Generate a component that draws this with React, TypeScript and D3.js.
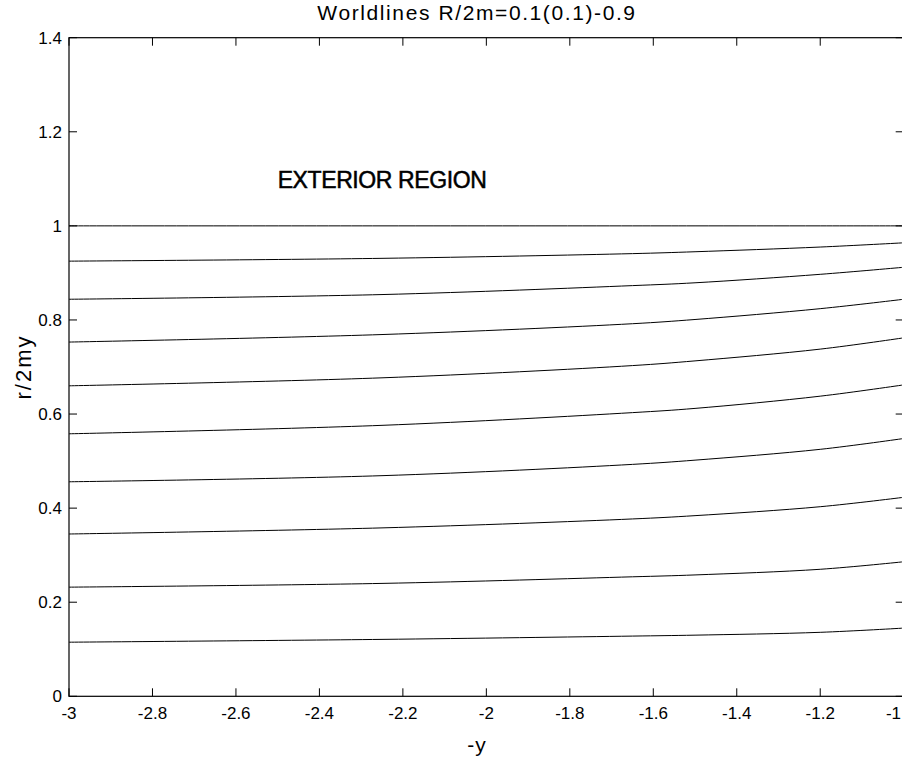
import React from "react";
import * as d3 from "d3";

const title = "Worldlines R/2m=0.1(0.1)-0.9";
const xLabel = "-y";
const yLabel = "r/2my";
const annotation = "EXTERIOR REGION";

const xTicks = [-3, -2.8, -2.6, -2.4, -2.2, -2, -1.8, -1.6, -1.4, -1.2, -1];
const yTicks = [0, 0.2, 0.4, 0.6, 0.8, 1, 1.2, 1.4];

// sample positions along -y
const ySamples = [-3, -2.25, -1.65, -1.5, -1.2, -1];

// r/2my values for each worldline (R/2m = 1.0, 0.9, ..., 0.1)
const line10 = [1.0, 1.0, 1.0, 1.0, 1.0, 1.0];
const line09 = [0.925, 0.931, 0.941, 0.945, 0.955, 0.964];
const line08 = [0.844, 0.854, 0.873, 0.879, 0.897, 0.912];
const line07 = [0.753, 0.769, 0.792, 0.801, 0.824, 0.844];
const line06 = [0.660, 0.677, 0.703, 0.713, 0.738, 0.762];
const line05 = [0.558, 0.576, 0.603, 0.612, 0.638, 0.662];
const line04 = [0.456, 0.469, 0.493, 0.502, 0.525, 0.548];
const line03 = [0.345, 0.358, 0.377, 0.384, 0.403, 0.423];
const line02 = [0.232, 0.240, 0.254, 0.258, 0.270, 0.286];
const line01 = [0.115, 0.121, 0.128, 0.130, 0.136, 0.145];

const series = [line10, line09, line08, line07, line06, line05, line04, line03, line02, line01];

const W = 902;
const H = 758;
const left = 69;
const right = 903.7;
const top = 37.7;
const bottom = 696.3;

export default function App() {
  const x = d3.scaleLinear().domain([-3, -1]).range([left, right]);
  const y = d3.scaleLinear().domain([0, 1.4]).range([bottom, top]);
  const line = d3
    .line<number>()
    .x((_, i) => x(ySamples[i]))
    .y((d) => y(d))
    .curve(d3.curveCatmullRom.alpha(0.5));
  const font = "Liberation Sans, Arial, Helvetica, sans-serif";
  const tl = 8;
  return (
    <svg
      width={W}
      height={H}
      style={{ position: "absolute", left: 0, top: 0, background: "#fff" }}
      fontFamily={font}
    >
      <rect x={0} y={0} width={W} height={H} fill="#fff" />
      {series.map((s, i) => (
        <path key={i} d={line(s) || ""} fill="none" stroke="#000" strokeWidth={1} />
      ))}
      {/* axes box */}
      <rect x={left} y={top} width={right - left} height={bottom - top} fill="none" stroke="#000" strokeWidth={1.2} />
      {xTicks.map((t, i) => {
        const last = i === xTicks.length - 1;
        return (
          <g key={"x" + t}>
            <line x1={x(t)} x2={x(t)} y1={bottom} y2={bottom - tl} stroke="#000" />
            <line x1={x(t)} x2={x(t)} y1={top} y2={top + tl} stroke="#000" />
            <text
              x={last ? W - 1 : x(t)}
              y={719}
              textAnchor={last ? "end" : "middle"}
              fontSize={17}
              fill="#000"
            >
              {String(t)}
            </text>
          </g>
        );
      })}
      {yTicks.map((t) => (
        <g key={"y" + t}>
          <line x1={left} x2={left + tl} y1={y(t)} y2={y(t)} stroke="#000" />
          <line x1={right} x2={right - tl} y1={y(t)} y2={y(t)} stroke="#000" />
          <text x={62} y={y(t) + 6} textAnchor="end" fontSize={17} fill="#000">
            {String(t)}
          </text>
        </g>
      ))}
      <text x={477} y={20} textAnchor="middle" fontSize={21} letterSpacing={1.6} fill="#000">
        {title}
      </text>
      <text x={477} y={752} textAnchor="middle" fontSize={21} letterSpacing={1} fill="#000">
        {xLabel}
      </text>
      <text
        transform={`translate(31, ${(top + bottom) / 2}) rotate(-90)`}
        textAnchor="middle"
        fontSize={22}
        letterSpacing={2}
        fill="#000"
      >
        {yLabel}
      </text>
      <text x={x(-2.5)} y={y(1.1) + 9} fontSize={23} letterSpacing={-0.4} fill="#000" stroke="#000" strokeWidth={0.5}>
        {annotation}
      </text>
    </svg>
  );
}
